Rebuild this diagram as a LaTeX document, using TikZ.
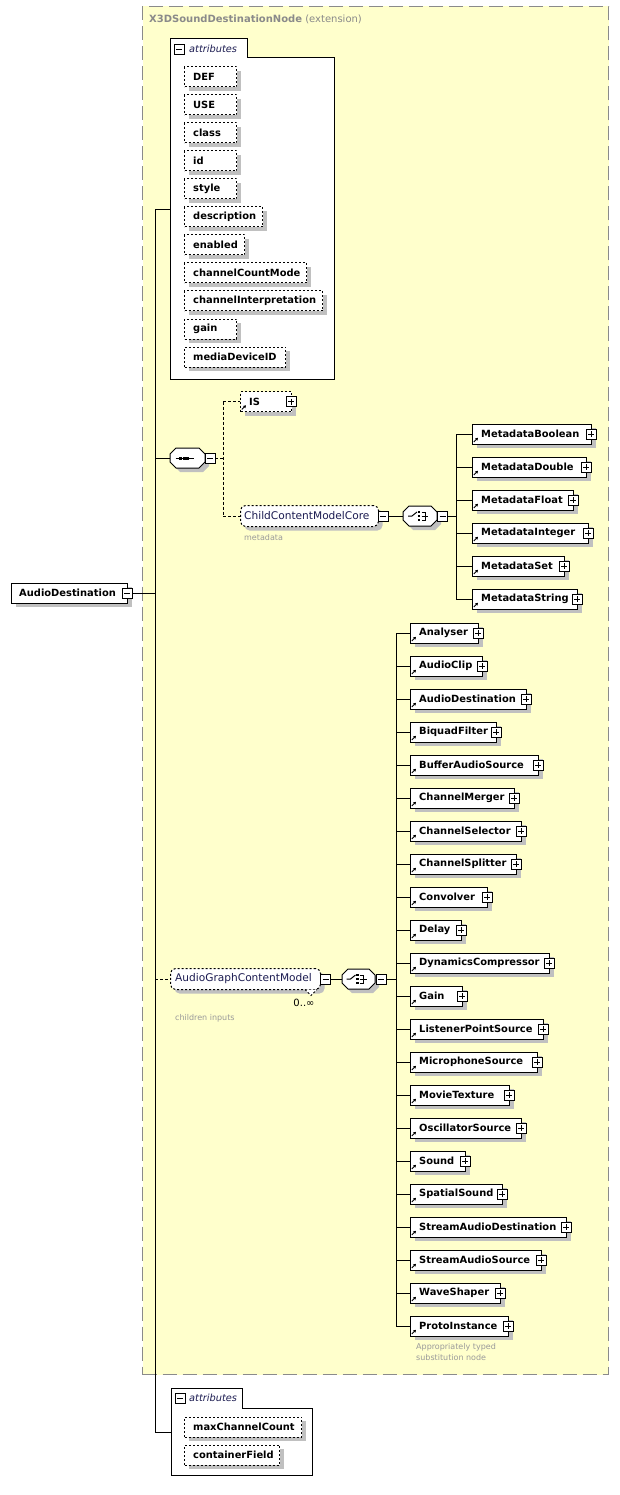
\documentclass[tikz,border=0pt]{standalone}
\usepackage{fontspec}
\setmainfont{DejaVu Sans}
\usetikzlibrary{shadows,arrows.meta}
\definecolor{extfill}{HTML}{FFFFCC}
\definecolor{extline}{HTML}{8A8A8A}
\definecolor{shgray}{HTML}{C0C0C0}
\definecolor{navy}{HTML}{1A1A50}
\definecolor{lgray}{HTML}{9A9A9A}
\tikzset{
  shad/.style={drop shadow={shadow xshift=4pt,shadow yshift=-4pt,fill=shgray,opacity=1}},
  elbox/.style={draw, fill=white, line width=1pt, minimum height=20pt, inner sep=0pt, anchor=west, shad},
  attbox/.style={elbox, dash pattern=on 2pt off 2pt},
  grpbox/.style={elbox, rounded corners=5pt, dash pattern=on 2pt off 2pt, minimum height=21pt},
  eltxt/.style={anchor=west, inner sep=0pt, font=\fontsize{9.9}{11}\selectfont\bfseries},
  grptxt/.style={anchor=west, inner sep=0pt, text=navy, font=\fontsize{10.6}{12}\selectfont},
  note/.style={anchor=west, inner sep=0pt, text=lgray, font=\fontsize{8}{9}\selectfont},
  pmbox/.style={draw, fill=white, line width=0.9pt, minimum size=10pt, inner sep=0pt},
  plusic/.style={pmbox, path picture={
      \draw[line width=0.9pt] ([xshift=2pt]path picture bounding box.west) -- ([xshift=-2pt]path picture bounding box.east);
      \draw[line width=0.9pt] ([yshift=-2pt]path picture bounding box.north) -- ([yshift=2pt]path picture bounding box.south);}},
  minusic/.style={pmbox, path picture={
      \draw[line width=0.9pt] ([xshift=2pt]path picture bounding box.west) -- ([xshift=-2pt]path picture bounding box.east);}},
  conn/.style={line width=1pt},
  dconn/.style={line width=1pt, dash pattern=on 3pt off 2pt},
  refarrow/.style={line width=0.9pt, -{Triangle[length=2.6pt,width=3pt]}},
}
% #1 name, #2 left x, #3 centre y, #4 right x, #5 text
\newcommand\xel[5]{%
  \node[elbox, minimum width={#4-#2}] (#1) at (#2,#3) {};
  \node[eltxt] (#1-t) at (#2+9,#3) {#5};
  \draw[refarrow] (#2+1.8,#3+8) -- (#2+6,#3+3.8);
  \node[plusic] (#1-p) at (#4,#3) {};
}
% octagon: #1 name, #2 cx, #3 cy, #4 half width
\newcommand\octa[4]{%
  \node[inner sep=0pt, minimum width={2*#4}, minimum height=20pt] (#1) at (#2,#3) {};
  \fill[shgray] (#2-#4+4,#3) -- (#2-#4+4,#3) -- (#2-#4+4,#3+4-4) -- (#2-#4+4,#3+4+4) -- (#2-#4+10,#3+10+4)
      -- (#2+#4-6+4,#3+10+4) -- (#2+#4+4,#3+4+4) -- (#2+#4+4,#3-4+4) -- (#2+#4-6+4,#3-10+4) -- (#2-#4+10,#3-10+4) -- cycle;
  \draw[fill=white, line width=1pt] (#2-#4,#3-4) -- (#2-#4+6,#3-10) -- (#2+#4-6,#3-10) -- (#2+#4,#3-4)
      -- (#2+#4,#3+4) -- (#2+#4-6,#3+10) -- (#2-#4+6,#3+10) -- (#2-#4,#3+4) -- cycle;
}
\newcommand\seqicon[2]{%
  \draw[line width=1pt] (#1-12,#2) -- (#1+6,#2);
  \foreach \dx in {-7,-3.5,0} \fill (#1+\dx-1.5,#2-1.5) rectangle (#1+\dx+1.5,#2+1.5);
}
\newcommand\choiceicon[2]{%
  \draw[line width=1pt] (#1-12,#2) -- (#1-8,#2) -- (#1-3,#2-4);
  \foreach \dy in {-4,0,4} \fill (#1-2.3,#2+\dy-1.3) rectangle (#1+0.3,#2+\dy+1.3);
  \draw[line width=1pt] (#1+1.5,#2-4) -- (#1+5,#2-4) -- (#1+5,#2+4) -- (#1+1.5,#2+4);
  \draw[line width=1pt] (#1+1.5,#2) -- (#1+8,#2);
}
\begin{document}
\begin{tikzpicture}[x=1pt,y=-1pt]
\useasboundingbox (0,0) rectangle (619,1495);

% extension area
\node[draw=extline, fill=extfill, dash pattern=on 14pt off 6pt, line width=1pt, minimum width=466pt, minimum height=1368pt,
      anchor=north west, inner sep=0pt] (ext) at (142,6) {};
\node[anchor=west, inner sep=0pt, text=extline, font=\fontsize{10}{12}\selectfont] (title) at (149,19)
      {\textbf{X3DSoundDestinationNode} (extension)};

% attributes frame (top)
\draw[fill=white, line width=1pt] (170,39) -- (247,39) -- (247,58) -- (334,58) -- (334,379) -- (170,379) -- cycle;
\node[inner sep=0pt, minimum width=164pt, minimum height=321pt, anchor=north west] (attr) at (170,58) {};
\node[minusic] (attr-m) at (179,49) {};
\node[anchor=west, inner sep=0pt, font=\fontsize{9.8}{11}\selectfont\itshape, text=navy] (attr-t) at (189,49) {attributes};
\foreach \n/\r [count=\i from 0] in {DEF/236,USE/236,class/236,id/236,style/236,description/262,enabled/244,
    channelCountMode/306,channelInterpretation/322,gain/236,mediaDeviceID/285} {
  \pgfmathsetmacro\yy{77+28*\i}
  \node[attbox, minimum width={\r-184}] (at\i) at (184,\yy) {};
  \node[eltxt] (at\i-t) at (193,\yy) {\n};
}

% root element
\node[elbox, minimum width=116pt] (root) at (11,593) {};
\node[eltxt] (root-t) at (19,593) {AudioDestination};
\node[minusic] (root-m) at (127,593) {};

% sequence
\octa{seq}{187.5}{458}{17.5}
\seqicon{187.5}{458}
\node[minusic] (seq-m) at (210,458) {};

% IS
\node[attbox, minimum width=51pt] (is) at (240,401.5) {};
\node[eltxt] (is-t) at (249,401.5) {IS};
\draw[refarrow] (241.8,409.5) -- (246,405.3);
\node[plusic] (is-p) at (291,401.5) {};

% ChildContentModelCore
\node[grpbox, minimum width=138pt] (ccmc) at (240,516) {};
\node[grptxt] (ccmc-t) at (244,516) {ChildContentModelCore};
\node[minusic] (ccmc-m) at (383,516) {};
\node[note] (ccmc-n) at (244,538) {metadata};

% choice 1
\octa{ch1}{420}{516}{17}
\choiceicon{420}{516}
\node[minusic] (ch1-m) at (442.5,516) {};

% metadata elements
\foreach \n/\r [count=\i from 0] in {MetadataBoolean/591,MetadataDouble/586,MetadataFloat/573,MetadataInteger/588,
    MetadataSet/564,MetadataString/577} {
  \pgfmathsetmacro\yy{434+33*\i}
  \xel{m\i}{472}{\yy}{\r}{\n}
  \coordinate (mb\i) at (456,\yy);
  \draw[conn] (mb\i) -- (m\i.west);
}
\coordinate (mj) at (456,516);
\draw[conn] (mb0) -- (mb5);
\draw[conn] (ch1-m.east) -- (mj);
\draw[conn] (ccmc-m.east) -- (ch1.west);

% AudioGraphContentModel
\node[grpbox, minimum width=150pt] (agcm) at (170,979) {};
\node[grptxt] (agcm-t) at (175,979) {AudioGraphContentModel};
\fill[white] (305,989.5) -- (311,995.5) -- (317,989.5) -- cycle;
\draw[line width=1pt, dash pattern=on 2pt off 2pt] (305,989.5) -- (311,995.5) -- (317,989.5);
\node[minusic] (agcm-m) at (325.5,979) {};
\node[anchor=center, inner sep=0pt, font=\fontsize{10}{12}\selectfont] (mult) at (304,1003) {0..∞};
\node[note] (agcm-n) at (175,1018) {children inputs};

% choice 2
\octa{ch2}{358.5}{979}{16.5}
\choiceicon{358.5}{979}
\node[minusic] (ch2-m) at (381,979) {};
\draw[conn] (agcm-m.east) -- (ch2.west);

% audio children
\foreach \n/\r [count=\i from 0] in {Analyser/478,AudioClip/482,AudioDestination/526,BiquadFilter/496,BufferAudioSource/538,
    ChannelMerger/514,ChannelSelector/521,ChannelSplitter/516,Convolver/487,Delay/461,DynamicsCompressor/549,Gain/462,
    ListenerPointSource/543,MicrophoneSource/537,MovieTexture/509,OscillatorSource/521,Sound/465,SpatialSound/502,
    StreamAudioDestination/566,StreamAudioSource/541,WaveShaper/500,ProtoInstance/508} {
  \pgfmathsetmacro\yy{633+33*\i}
  \xel{a\i}{410}{\yy}{\r}{\n}
  \coordinate (ab\i) at (396,\yy);
  \draw[conn] (ab\i) -- (a\i.west);
}
\coordinate (aj) at (396,979);
\draw[conn] (ab0) -- (ab21);
\draw[conn] (ch2-m.east) -- (aj);
\node[note] (proto-n1) at (416,1347) {Appropriately typed};
\node[note] (proto-n2) at (416,1358) {substitution node};

% bottom attributes frame
\draw[fill=white, line width=1pt] (171,1388) -- (242,1388) -- (242,1408) -- (312,1408) -- (312,1475) -- (171,1475) -- cycle;
\node[inner sep=0pt, minimum width=141pt, minimum height=67pt, anchor=north west] (attr2) at (171,1408) {};
\node[minusic] (attr2-m) at (180,1398) {};
\node[anchor=west, inner sep=0pt, font=\fontsize{9.8}{11}\selectfont\itshape, text=navy] (attr2-t) at (189,1398) {attributes};
\node[attbox, minimum width=117pt] (mcc) at (184,1427) {};
\node[eltxt] (mcc-t) at (193,1427) {maxChannelCount};
\node[attbox, minimum width=95pt] (cf) at (184,1455) {};
\node[eltxt] (cf-t) at (193,1455) {containerField};

% main bus
\coordinate (b1) at (155,210);
\coordinate (b2) at (155,458);
\coordinate (broot) at (155,593);
\coordinate (b3) at (155,979);
\coordinate (b4) at (155,1432);
\coordinate (attrin) at (170,210);
\coordinate (attr2in) at (171,1432);
\draw[conn] (b1) -- (b4);
\draw[conn] (root-m.east) -- (broot);
\draw[conn] (b1) -- (attrin);
\draw[conn] (b2) -- (seq.west);
\draw[dconn] (b3) -- (agcm.west);
\draw[conn] (b4) -- (attr2in);

% sequence branches
\coordinate (sj) at (223,458);
\coordinate (sjt) at (223,401.5);
\coordinate (sjb) at (223,516);
\draw[dconn] (seq-m.east) -- (sj);
\draw[dconn] (sjt) -- (sjb);
\draw[dconn] (sjt) -- (is.west);
\draw[dconn] (sjb) -- (ccmc.west);
\end{tikzpicture}
\end{document}
